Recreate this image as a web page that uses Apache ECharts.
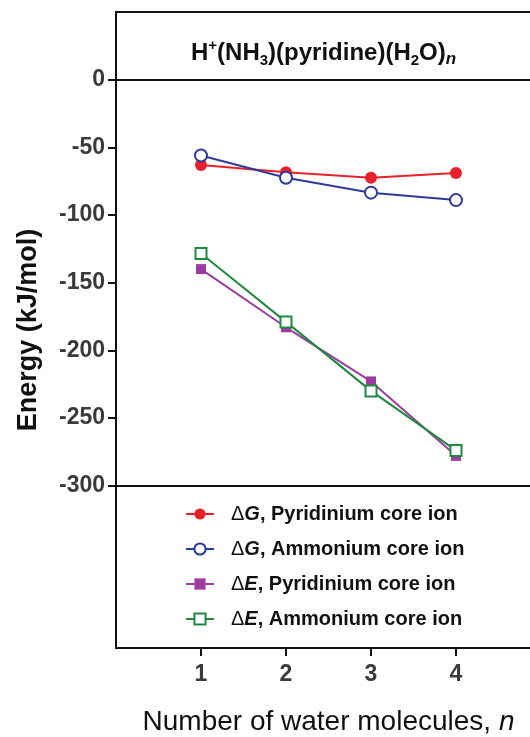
<!DOCTYPE html>
<html>
<head>
<meta charset="utf-8">
<script src="https://cdn.jsdelivr.net/npm/echarts@6/dist/echarts.min.js"></script>
<style>
html, body { margin: 0; padding: 0; background: #fff; }
#chart { width: 530px; height: 737px; }
</style>
</head>
<body>
<div id="chart"></div>
<script>
// 数据
var waterCounts = [1, 2, 3, 4];
var dGPyridinium = [-63, -68.5, -72.5, -69];
var dGAmmonium = [-56, -72.5, -83.5, -89];
var dEPyridinium = [-140, -183, -223, -278];
var dEAmmonium = [-128.5, -179, -230, -274];
var yTickValues = [0, -50, -100, -150, -200, -250, -300];
var xTickValues = [1, 2, 3, 4];
var refLines = [0, -300];

var FONT = '"Liberation Sans", Arial, sans-serif';

function pairs(values) {
    return waterCounts.map(function (n, i) { return [n, values[i]]; });
}

var chart = echarts.init(document.getElementById('chart'));

var option = {
    animation: false,
    textStyle: { fontFamily: FONT },
    title: {
        left: 186,
        top: 33,
        text: '{b|H}{sup|+}{b|(NH}{sub|3}{b|)(pyridine)(H}{sub|2}{b|O)}{subi|n}',
        textStyle: {
            rich: {
                b: { fontFamily: FONT, fontSize: 24, fontWeight: 'bold', color: '#111', lineHeight: 30 },
                sup: { fontFamily: FONT, fontSize: 15, fontWeight: 'bold', color: '#111', lineHeight: 14, verticalAlign: 'top' },
                sub: { fontFamily: FONT, fontSize: 15, fontWeight: 'bold', color: '#111', lineHeight: 14, verticalAlign: 'bottom' },
                subi: { fontFamily: FONT, fontSize: 17, fontWeight: 'bold', fontStyle: 'italic', color: '#111', lineHeight: 14, verticalAlign: 'bottom' }
            }
        }
    },
    // 右边框在画面外
    grid: {
        left: 116,
        width: 425,
        top: 12,
        bottom: 89,
        outerBoundsMode: 'none',
        show: true,
        borderColor: '#111',
        borderWidth: 2,
        backgroundColor: 'transparent'
    },
    legend: {
        orient: 'vertical',
        left: 180,
        top: 499,
        itemWidth: 28,
        itemHeight: 14,
        itemGap: 15,
        data: ['ΔG, Pyridinium core ion', 'ΔG, Ammonium core ion', 'ΔE, Pyridinium core ion', 'ΔE, Ammonium core ion'],
        formatter: function (name) {
            return '{d|Δ}{v|' + name.charAt(1) + '}{t|' + name.slice(2) + '}';
        },
        textStyle: {
            rich: {
                d: { fontFamily: FONT, fontSize: 20, color: '#111', padding: [0, 0, 0, 12] },
                v: { fontFamily: FONT, fontSize: 20, fontWeight: 'bold', fontStyle: 'italic', color: '#111' },
                t: { fontFamily: FONT, fontSize: 20, fontWeight: 'bold', color: '#111' }
            }
        }
    },
    xAxis: {
        type: 'value',
        min: 0,
        max: 5,
        interval: 1,
        splitLine: { show: false },
        axisLine: { show: false, onZero: false },
        axisTick: { show: true, length: 8, customValues: xTickValues, lineStyle: { color: '#111', width: 2 } },
        axisLabel: { customValues: xTickValues, margin: 15, fontSize: 23, fontWeight: 'bold', color: '#3a3a3a', fontFamily: FONT },
        name: 'Number of water molecules, {i|n}',
        nameLocation: 'middle',
        nameGap: 60,
        nameTextStyle: {
            fontSize: 28, color: '#111', fontFamily: FONT,
            rich: { i: { fontSize: 28, fontStyle: 'italic', color: '#111', fontFamily: FONT } }
        }
    },
    yAxis: {
        type: 'value',
        min: -420,
        max: 50,
        splitLine: { show: false },
        axisLine: { show: false, onZero: false },
        axisTick: { show: true, length: 8, customValues: yTickValues, lineStyle: { color: '#111', width: 2 } },
        axisLabel: { customValues: yTickValues, margin: 11, fontSize: 23, fontWeight: 'bold', color: '#3a3a3a', fontFamily: FONT },
        name: 'Energy (kJ/mol)',
        nameLocation: 'middle',
        nameRotate: 90,
        nameGap: 74,
        nameTextStyle: { fontSize: 27, fontWeight: 'bold', color: '#111', fontFamily: FONT }
    },
    series: [
        {
            name: 'ΔG, Pyridinium core ion',
            type: 'line',
            data: pairs(dGPyridinium),
            symbol: 'circle',
            symbolSize: 12,
            color: '#e8202a',
            lineStyle: { width: 2 },
            markLine: {
                silent: true,
                symbol: 'none',
                label: { show: false },
                lineStyle: { color: '#111', width: 2, type: 'solid' },
                data: refLines.map(function (v) { return { yAxis: v }; })
            }
        },
        {
            name: 'ΔG, Ammonium core ion',
            type: 'line',
            data: pairs(dGAmmonium),
            symbol: 'emptyCircle',
            symbolSize: 12,
            color: '#2c3b98',
            itemStyle: { borderWidth: 2 },
            lineStyle: { width: 2 }
        },
        {
            name: 'ΔE, Pyridinium core ion',
            type: 'line',
            data: pairs(dEPyridinium),
            symbol: 'rect',
            symbolSize: 10,
            color: '#9c3c9e',
            lineStyle: { width: 2 }
        },
        {
            name: 'ΔE, Ammonium core ion',
            type: 'line',
            data: pairs(dEAmmonium),
            symbol: 'emptyRect',
            symbolSize: 11,
            color: '#1f8a3f',
            itemStyle: { borderWidth: 2 },
            lineStyle: { width: 2 }
        }
    ]
};

chart.setOption(option);
</script>
</body>
</html>
